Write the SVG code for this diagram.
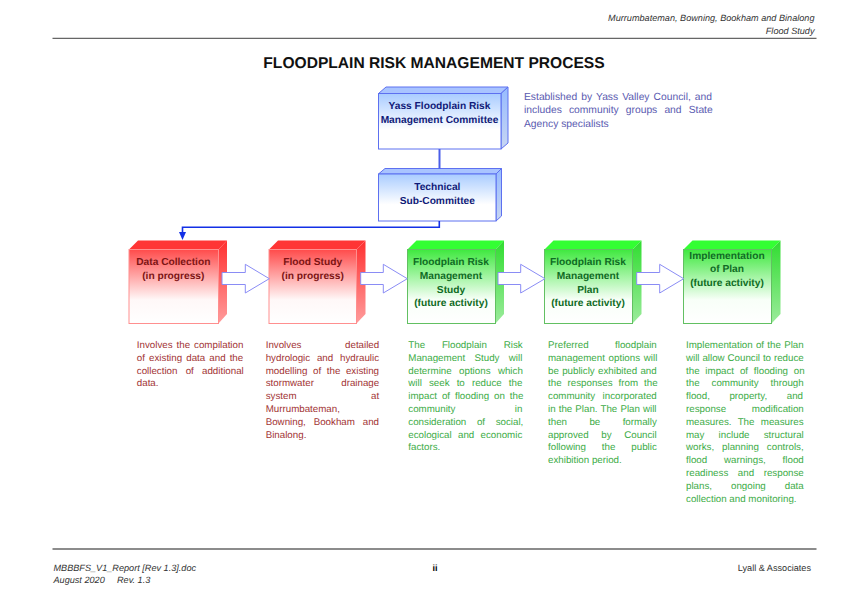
<svg xmlns="http://www.w3.org/2000/svg" width="868" height="600" viewBox="0 0 868 600">
<style>
text{font-family:"Liberation Sans",Arial,sans-serif;text-rendering:geometricPrecision}
.hf{font-size:9.15px;fill:#333}
.it{font-style:italic}
.title{font-size:15.6px;font-weight:bold;fill:#111;text-anchor:middle}
.n{font-size:10.2px;font-weight:bold;text-anchor:middle}
.nb{fill:#101a78}.nr{fill:#7c1414}.ng{fill:#0f6b24}
.d{font-size:9.75px}
.dr{fill:#a23434}.dg{fill:#3dac47}
.e{text-anchor:end}
.blue{font-size:10.3px;fill:#5a5ab0}
.bf{stroke:#5d70f0;stroke-width:1}
.rf{stroke:#ff8f8f;stroke-width:1}
.gf{stroke:#62c062;stroke-width:1}
.arr{fill:#fff;stroke:#8a8cf5;stroke-width:1}
.cn{fill:none;stroke:#1330e6;stroke-width:1.6}
.rule{stroke:#666;stroke-width:1.3}
</style>
<defs>
<linearGradient id="fb" x1="0" y1="0" x2="0" y2="1"><stop offset="0" stop-color="#a9ccff"/><stop offset="0.65" stop-color="#ffffff"/></linearGradient>
<linearGradient id="fr" x1="0" y1="0" x2="0" y2="1"><stop offset="0" stop-color="#ff4b4b"/><stop offset="0.68" stop-color="#fff8f8"/><stop offset="1" stop-color="#ffffff"/></linearGradient>
<linearGradient id="fg" x1="0" y1="0" x2="0" y2="1"><stop offset="0" stop-color="#3fe83f"/><stop offset="0.68" stop-color="#f8fff8"/><stop offset="1" stop-color="#ffffff"/></linearGradient>
<linearGradient id="sb" x1="0" y1="0" x2="0" y2="1"><stop offset="0" stop-color="#96bbff"/><stop offset="1" stop-color="#c8d6f2"/></linearGradient>
<linearGradient id="sr" x1="0" y1="0" x2="0" y2="1"><stop offset="0" stop-color="#ff3030"/><stop offset="1" stop-color="#ff9c9c"/></linearGradient>
<linearGradient id="sg" x1="0" y1="0" x2="0" y2="1"><stop offset="0" stop-color="#30dd30"/><stop offset="1" stop-color="#9ceb9c"/></linearGradient>
</defs>
<rect width="868" height="600" fill="#fff"/>
<g id="header">
<text class="hf it e" x="814.5" y="21">Murrumbateman, Bowning, Bookham and Binalong</text>
<text class="hf it e" x="814.5" y="34">Flood Study</text>
<path d="M52.5 38.3H816.5" class="rule"/>
</g>
<text class="title" x="434" y="67.5">FLOODPLAIN RISK MANAGEMENT PROCESS</text>
<g id="committee">
<polygon points="378.5,93.5 386,87 508,87 501,93.5" fill="#a9c4ff" class="bf"/>
<polygon points="501,93.5 508,87 508,143 501,149" fill="url(#sb)" class="bf"/>
<rect x="378.5" y="93.5" width="122.5" height="55.5" fill="url(#fb)" class="bf"/>
<text class="n nb" x="439.5" y="109">Yass Floodplain Risk</text>
<text class="n nb" x="439.5" y="123">Management Committee</text>
</g>
<g id="committee-note" class="blue">
<text x="524" y="99.7" word-spacing="1.2">Established by Yass Valley Council, and</text>
<text x="524" y="113.2" word-spacing="4.25">includes community groups and State</text>
<text x="524" y="126.7">Agency specialists</text>
</g>
<g id="subcommittee">
<polygon points="378.5,174 385,168.5 501.5,168.5 496,174" fill="#a9c4ff" class="bf"/>
<polygon points="496,174 501.5,168.5 501.5,216 496,221" fill="url(#sb)" class="bf"/>
<rect x="378.5" y="174" width="117.5" height="47" fill="url(#fb)" class="bf"/>
<text class="n nb" x="437.3" y="190">Technical</text>
<text class="n nb" x="437.3" y="204">Sub-Committee</text>
</g>
<g id="data-collection">
<polygon points="129,249.5 138,240.5 227,240.5 218.5,249.5" fill="#ff3535"/>
<polygon points="218.5,249.5 227,240.5 227,314 218.5,323.5" fill="url(#sr)"/>
<rect x="129" y="249.5" width="89.5" height="74" fill="url(#fr)" class="rf"/>
<text class="n nr" x="173.3" y="265">Data Collection</text>
<text class="n nr" x="173.3" y="279">(in progress)</text>
</g>
<g id="flood-study">
<polygon points="269,249.5 278,240.5 365.5,240.5 356.5,249.5" fill="#ff3535"/>
<polygon points="356.5,249.5 365.5,240.5 365.5,314 356.5,323.5" fill="url(#sr)"/>
<rect x="269" y="249.5" width="87.5" height="74" fill="url(#fr)" class="rf"/>
<text class="n nr" x="312.7" y="265">Flood Study</text>
<text class="n nr" x="312.7" y="279">(in progress)</text>
</g>
<g id="risk-study">
<polygon points="407.5,249.5 416.5,240.5 504,240.5 495.5,249.5" fill="#33ff33"/>
<polygon points="495.5,249.5 504,240.5 504,314 495.5,323.5" fill="url(#sg)"/>
<rect x="407.5" y="249.5" width="88" height="74" fill="url(#fg)" class="gf"/>
<text class="n ng" x="451" y="265">Floodplain Risk</text>
<text class="n ng" x="451" y="279">Management</text>
<text class="n ng" x="451" y="292.5">Study</text>
<text class="n ng" x="451" y="306">(future activity)</text>
</g>
<g id="risk-plan">
<polygon points="544.5,249.5 553.5,240.5 641.5,240.5 632.5,249.5" fill="#33ff33"/>
<polygon points="632.5,249.5 641.5,240.5 641.5,314 632.5,323.5" fill="url(#sg)"/>
<rect x="544.5" y="249.5" width="88" height="74" fill="url(#fg)" class="gf"/>
<text class="n ng" x="588" y="265">Floodplain Risk</text>
<text class="n ng" x="588" y="279">Management</text>
<text class="n ng" x="588" y="292.5">Plan</text>
<text class="n ng" x="588" y="306">(future activity)</text>
</g>
<g id="implementation">
<polygon points="683.5,249.5 692.5,240.5 780.5,240.5 771.5,249.5" fill="#33ff33"/>
<polygon points="771.5,249.5 780.5,240.5 780.5,314 771.5,323.5" fill="url(#sg)"/>
<rect x="683.5" y="249.5" width="88" height="74" fill="url(#fg)" class="gf"/>
<text class="n ng" x="727" y="258.7">Implementation</text>
<text class="n ng" x="727" y="272.3">of Plan</text>
<text class="n ng" x="727" y="286">(future activity)</text>
</g>
<g id="connectors">
<path d="M439.5 149V168.5" class="cn" style="stroke:#4a5ee8;stroke-width:2"/>
<path d="M439.3 221V227.3H182.5V233" class="cn"/>
<polygon points="179,232 186,232 182.5,240" fill="#1330e6"/>
<polygon class="arr" points="222,272.5 245.3,272.5 245.3,264.3 269.3,278.7 245.3,293 245.3,284.5 222,284.5"/>
<polygon class="arr" points="360.7,272.5 383.3,272.5 383.3,264.3 407.3,278.7 383.3,293 383.3,284.5 360.7,284.5"/>
<polygon class="arr" points="498,272.5 520.7,272.5 520.7,264.3 545,278.7 520.7,293 520.7,284.5 498,284.5"/>
<polygon class="arr" points="636.7,272.5 659.7,272.5 659.7,264.3 683.7,278.7 659.7,293 659.7,284.5 636.7,284.5"/>
</g>
<g id="desc-data" class="d dr">
<text x="136.8" y="348" word-spacing="1.25">Involves the compilation</text>
<text x="136.8" y="360.8" word-spacing="1.4">of existing data and the</text>
<text x="136.8" y="373.6" word-spacing="5.5">collection of additional</text>
<text x="136.8" y="386.4">data.</text>
</g>
<g id="desc-flood" class="d dr">
<text x="265.7" y="348">Involves</text><text class="e" x="379.2" y="348">detailed</text>
<text x="265.7" y="360.8" word-spacing="4.1">hydrologic and hydraulic</text>
<text x="265.7" y="373.6" word-spacing="2.9">modelling of the existing</text>
<text x="265.7" y="386.4">stormwater</text><text class="e" x="379.2" y="386.4">drainage</text>
<text x="265.7" y="399.2">system</text><text class="e" x="379.2" y="399.2">at</text>
<text x="265.7" y="412">Murrumbateman,</text>
<text x="265.7" y="424.8" word-spacing="5.15">Bowning, Bookham and</text>
<text x="265.7" y="437.6">Binalong.</text>
</g>
<g id="desc-study" class="d dg">
<text x="408.3" y="348" word-spacing="14.1">The Floodplain Risk</text>
<text x="408.3" y="360.8" word-spacing="6.6">Management Study will</text>
<text x="408.3" y="373.6" word-spacing="4.7">determine options which</text>
<text x="408.3" y="386.4" word-spacing="4.4">will seek to reduce the</text>
<text x="408.3" y="399.2" word-spacing="2.2">impact of flooding on the</text>
<text x="408.3" y="412">community</text><text class="e" x="522.4" y="412">in</text>
<text x="408.3" y="424.8" word-spacing="7.9">consideration of social,</text>
<text x="408.3" y="437.6" word-spacing="3.6">ecological and economic</text>
<text x="408.3" y="450.4">factors.</text>
</g>
<g id="desc-plan" class="d dg">
<text x="548" y="348">Preferred</text><text class="e" x="656.8" y="348">floodplain</text>
<text x="548" y="360.8" word-spacing="1">management options will</text>
<text x="548" y="373.6" word-spacing="0.63">be publicly exhibited and</text>
<text x="548" y="386.4" word-spacing="3.3">the responses from the</text>
<text x="548" y="399.2">community</text><text class="e" x="656.8" y="399.2">incorporated</text>
<text x="548" y="412" word-spacing="0.39">in the Plan. The Plan will</text>
<text x="548" y="424.8" word-spacing="19.7">then be formally</text>
<text x="548" y="437.6" word-spacing="9.9">approved by Council</text>
<text x="548" y="450.4" word-spacing="13.2">following the public</text>
<text x="548" y="463.2">exhibition period.</text>
</g>
<g id="desc-impl" class="d dg">
<text x="686" y="348" word-spacing="0.57">Implementation of the Plan</text>
<text x="686" y="360.8" word-spacing="0.17">will allow Council to reduce</text>
<text x="686" y="373.6" word-spacing="3.1">the impact of flooding on</text>
<text x="686" y="386.4" word-spacing="9.25">the community through</text>
<text x="686" y="399.2" word-spacing="16.85">flood, property, and</text>
<text x="686" y="412">response</text><text class="e" x="803.8" y="412">modification</text>
<text x="686" y="424.8" word-spacing="3.6">measures. The measures</text>
<text x="686" y="437.6" word-spacing="11.45">may include structural</text>
<text x="686" y="450.4" word-spacing="5.2">works, planning controls,</text>
<text x="686" y="463.2" word-spacing="14.15">flood warnings, flood</text>
<text x="686" y="476" word-spacing="6.85">readiness and response</text>
<text x="686" y="488.8" word-spacing="16.3">plans, ongoing data</text>
<text x="686" y="501.6">collection and monitoring.</text>
</g>
<g id="footer">
<path d="M52.5 549H816.5" class="rule"/>
<text class="hf it" x="53.5" y="570.5">MBBBFS_V1_Report [Rev 1.3].doc</text>
<text class="hf it" x="53.5" y="582.5">August 2020<tspan x="117">Rev. 1.3</tspan></text>
<text class="hf" x="435" y="570.5" text-anchor="middle" style="fill:#000;font-weight:bold">ii</text>
<text class="hf e" x="811" y="570.5">Lyall &amp; Associates</text>
</g>
</svg>
